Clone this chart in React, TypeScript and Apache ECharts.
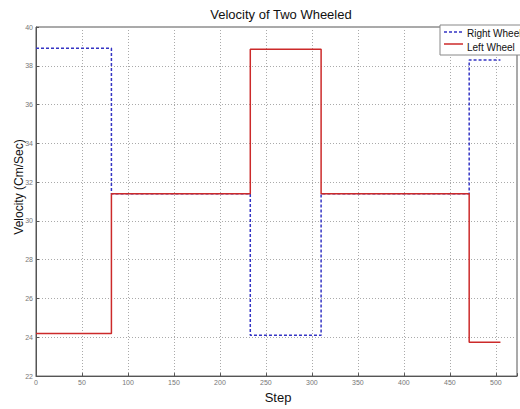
import React, { useEffect, useRef } from "react";
import * as echarts from "echarts";

const changeSteps = [0, 82, 233, 310, 471, 505];
const rightWheel = [38.9, 31.4, 24.1, 31.4, 38.3, 38.3];
const leftWheel = [24.2, 31.4, 38.85, 31.4, 23.75, 23.75];
const seriesNames = ["Right Wheel", "Left Wheel"];
const titleText = "Velocity of Two Wheeled";
const xName = "Step";
const yName = "Velocity (Cm/Sec)";

const FONT = "'Liberation Sans', Arial, sans-serif";
const BLUE = "#3434c4";
const RED = "#cc2a2a";

export default function App() {
  const ref = useRef<HTMLDivElement>(null);
  useEffect(() => {
    if (!ref.current) return;
    const chart = echarts.init(ref.current, undefined, { renderer: "svg" });
    const mk = (vals: number[]) => changeSteps.map((s, i) => [s, vals[i]]);
    chart.setOption({
      animation: false,
      backgroundColor: "#fff",
      textStyle: { fontFamily: FONT },
      grid: {
        left: 36,
        top: 27,
        right: 0,
        bottom: 28,
        show: true,
        borderColor: "#555",
        borderWidth: 1,
        backgroundColor: "#fff",
      },
      legend: {
        data: seriesNames.map((n) => ({ name: n, icon: "none" })),
        orient: "vertical",
        left: 440,
        top: 25,
        padding: [3, 20, 3, 4],
        itemWidth: 20,
        itemHeight: 8,
        itemGap: 4,
        borderColor: "#888",
        borderWidth: 1,
        backgroundColor: "#fff",
        textStyle: { fontSize: 10, color: "#111", fontFamily: FONT, padding: [0, 0, 0, -2] },
      },
      graphic: [
        {
          type: "text",
          x: 281,
          y: 14,
          style: {
            text: titleText,
            fontSize: 13,
            fontFamily: FONT,
            fill: "#111",
            textAlign: "center",
            textVerticalAlign: "middle",
          },
        },
        {
          type: "text",
          x: 19,
          y: 187,
          rotation: Math.PI / 2,
          style: {
            text: yName,
            fontSize: 12,
            fontFamily: FONT,
            fill: "#111",
            textAlign: "center",
            textVerticalAlign: "middle",
          },
        },
        {
          type: "line",
          z: 100,
          shape: { x1: 444, y1: 32, x2: 463, y2: 32 },
          style: { stroke: BLUE, lineWidth: 1.5, lineDash: [3, 2] },
        },
        {
          type: "line",
          z: 100,
          shape: { x1: 444, y1: 44, x2: 463, y2: 44 },
          style: { stroke: RED, lineWidth: 1.5 },
        },
      ],
      xAxis: {
        type: "value",
        min: 0,
        max: 523,
        interval: 50,
        name: xName,
        nameLocation: "middle",
        nameGap: 12,
        nameTextStyle: { fontSize: 13, color: "#111", fontFamily: FONT, padding: [0, 0, 0, 3] },
        axisLine: { show: true, lineStyle: { color: "#555" } },
        axisTick: { show: true, inside: true, length: 3, lineStyle: { color: "#555" } },
        axisLabel: {
          fontSize: 7,
          color: "#777",
          margin: 3,
          formatter: (v: number) => (v % 50 === 0 ? String(v) : ""),
        },
        splitLine: { show: true, lineStyle: { color: "#aaa", type: [1, 2], width: 1 } },
      },
      yAxis: {
        type: "value",
        min: 22,
        max: 40,
        interval: 2,
        axisLine: { show: true, lineStyle: { color: "#555" } },
        axisTick: { show: true, inside: true, length: 3, lineStyle: { color: "#555" } },
        axisLabel: { fontSize: 7, color: "#777", margin: 3 },
        splitLine: { show: true, lineStyle: { color: "#aaa", type: [1, 2], width: 1 } },
      },
      series: [
        {
          name: seriesNames[0],
          type: "line",
          step: "end",
          symbol: "none",
          data: mk(rightWheel),
          itemStyle: { color: BLUE },
          lineStyle: { color: BLUE, width: 1.5, type: [3, 2] },
        },
        {
          name: seriesNames[1],
          type: "line",
          step: "end",
          symbol: "none",
          data: mk(leftWheel),
          itemStyle: { color: RED },
          lineStyle: { color: RED, width: 1.5 },
        },
      ],
    });
    return () => chart.dispose();
  }, []);
  return (
    <div
      ref={ref}
      style={{ position: "absolute", left: 0, top: 0, width: 520, height: 409 }}
    />
  );
}
